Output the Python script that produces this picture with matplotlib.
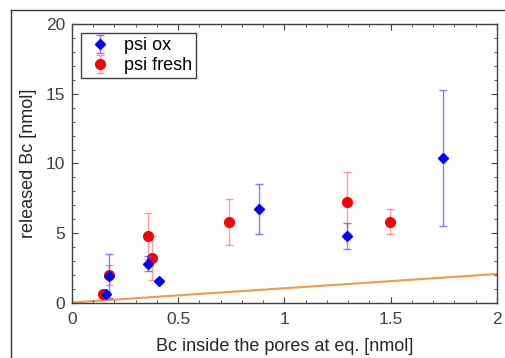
import numpy as np
import matplotlib.pyplot as plt
from matplotlib.lines import Line2D

plt.rcParams['font.family'] = ['Liberation Sans', 'DejaVu Sans']

# psi ox
x_ox = [0.16, 0.176, 0.356, 0.408, 0.88, 1.296, 1.747]
y_ox = [0.6, 1.9, 2.8, 1.57, 6.7, 4.8, 10.4]
e_ox = [0.15, 1.6, 0.55, 0.1, 1.8, 0.95, 4.9]

# psi fresh
x_fr = [0.148, 0.176, 0.356, 0.378, 0.739, 1.296, 1.498]
y_fr = [0.6, 2.0, 4.8, 3.2, 5.8, 7.2, 5.8]
e_fr = [0.1, 0.72, 1.65, 1.6, 1.63, 2.2, 0.89]

# reference line
x_ref = [0, 2]
y_ref = [0, 2.05]

fig = plt.figure(figsize=(5.06, 3.58), dpi=100)
ax = fig.add_axes([0.1423, 0.155, 0.8397, 0.777])

ax.plot(x_ref, y_ref, color='#f39a45', lw=1.5, zorder=1)
ax.errorbar(x_ox, y_ox, yerr=e_ox, fmt='D', color='#0000ff', ms=5.5,
            ecolor=(0.3, 0.3, 1.0, 0.7), elinewidth=1, capsize=3, label='psi ox', zorder=3)
ax.errorbar(x_fr, y_fr, yerr=e_fr, fmt='o', color='#ff0000', ms=7,
            ecolor=(1.0, 0.3, 0.3, 0.55), elinewidth=1, capsize=3, label='psi fresh', zorder=2)

ax.set_xlim(0, 2)
ax.set_ylim(0, 20)
ax.set_xticks([0, 0.5, 1, 1.5, 2])
ax.set_xticklabels(['0', '0.5', '1', '1.5', '2'])
ax.set_yticks([0, 5, 10, 15, 20])
ax.set_xticks(np.arange(0, 2.01, 0.1), minor=True)
ax.set_yticks(np.arange(0, 20.1, 1), minor=True)
ax.tick_params(which='both', direction='in', top=True, right=True,
               colors='#404040', labelsize=12.5)
ax.tick_params(which='major', length=4, pad=5)
ax.tick_params(axis='x', which='major', pad=7)
ax.tick_params(which='minor', length=2.5)
for s in ax.spines.values():
    s.set_color('#404040')
    s.set_linewidth(1)

ax.set_xlabel('Bc inside the pores at eq. [nmol]', fontsize=13, color='#262626', labelpad=8)
ax.set_ylabel('released Bc [nmol]', fontsize=13, color='#262626', labelpad=6)

leg = ax.legend(loc='upper left', bbox_to_anchor=(0.02, 0.968), borderaxespad=0,
                fancybox=False, framealpha=1, edgecolor='#404040', fontsize=13,
                handletextpad=0.4, handlelength=1.8, borderpad=0.2, labelspacing=0.2)
leg.get_frame().set_linewidth(1)

# outer frame lines
fig.add_artist(Line2D([11/506, 11/506], [0, 1 - 10/358], color='#333333', lw=1))
fig.add_artist(Line2D([11/506, 1], [1 - 10/358, 1 - 10/358], color='#333333', lw=1))

fig.savefig('out.png', dpi=100)
